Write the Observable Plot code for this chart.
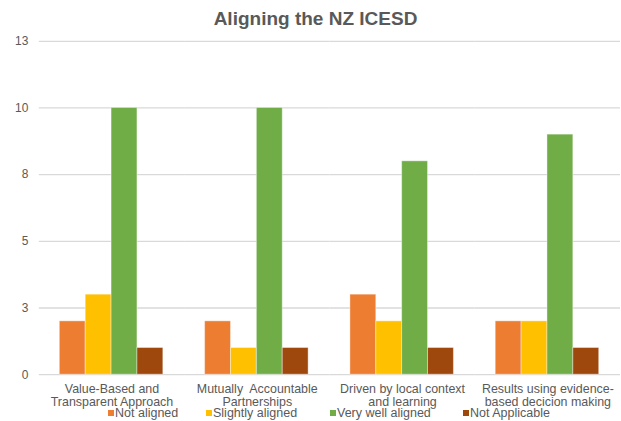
<!DOCTYPE html>
<html>
<head>
<meta charset="utf-8">
<script src="https://cdn.jsdelivr.net/npm/d3@7"></script>
<script src="https://cdn.jsdelivr.net/npm/@observablehq/plot@0.6"></script>
<style>
  html, body { margin: 0; padding: 0; background: #fff; overflow: hidden; }
  #chart { position: relative; width: 621px; height: 421px; overflow: hidden;
           font-family: "Liberation Sans", Arial, sans-serif; color: #595959; }
  #title { position: absolute; left: 0; top: 9px; width: 631px; text-align: center;
           font-size: 19px; line-height: 19px; font-weight: bold; color: #595959; }
  .legend-item { position: absolute; top: 406px; font-size: 12.5px; line-height: 14px;
                 white-space: nowrap; color: #595959; }
  .legend-item .sw { position: absolute; left: -7px; top: 4px; width: 6px; height: 6px; }
  #plot { position: absolute; left: 0; top: 0; }
</style>
</head>
<body>
<div id="chart">
  <div id="plot"></div>
  <div id="title">Aligning the NZ ICESD</div>
</div>
<script>
// Principles along the x axis (two-line labels)
const categories = [
  "Value-Based and\nTransparent Approach",
  "Mutually  Accountable\nPartnerships",
  "Driven by local context\nand learning",
  "Results using evidence-\nbased decicion making"
];

// Alignment ratings
const series = ["Not aligned", "Slightly aligned", "Very well aligned", "Not Applicable"];
const colors = ["#ED7D31", "#FFC000", "#70AD47", "#9E480E"];

// Counts per rating, one value per principle
const notAligned      = [2, 2, 3, 2];
const slightlyAligned = [3, 1, 2, 2];
const veryWellAligned = [10, 10, 8, 9];
const notApplicable   = [1, 1, 1, 1];

// Value axis ticks (labels are rounded to whole numbers)
const yTicks = [0, 2.5, 5, 7.5, 10, 12.5];

const valuesBySeries = [notAligned, slightlyAligned, veryWellAligned, notApplicable];
const rows = [];
categories.forEach((c, i) => {
  series.forEach((s, j) => rows.push({category: c, series: s, value: valuesBySeries[j][i]}));
});

const plot = Plot.plot({
  width: 624,
  height: 421,
  marginLeft: 37.4,
  marginRight: 0,
  marginTop: 41,
  marginBottom: 45,
  style: {
    fontFamily: "'Liberation Sans', Arial, sans-serif",
    fontSize: "12px",
    color: "#595959",
    background: "transparent"
  },
  fx: {domain: categories, padding: 0, label: null},
  x: {domain: series, paddingInner: 0, paddingOuter: 0.745, align: 0.5, axis: null},
  y: {domain: [0, 12.5], label: null},
  color: {domain: series, range: colors},
  marks: [
    Plot.ruleY(yTicks, {stroke: "#d9d9d9", strokeWidth: 1.3}),
    Plot.axisY({
      ticks: yTicks,
      tickFormat: d => Math.round(d),
      tickSize: 0,
      tickPadding: 11,
      fontSize: 12,
      label: null
    }),
    Plot.axisFx({
      anchor: "bottom",
      tickSize: 0,
      tickPadding: 9,
      fontSize: 12.5,
      lineHeight: 1.07,
      label: null
    }),
    Plot.barY(rows, {
      fx: "category",
      x: "series",
      y: "value",
      fill: "series",
      inset: 0,
      stroke: "#ffffff",
      strokeOpacity: 0.4,
      strokeWidth: 1
    })
  ]
});
document.getElementById("plot").appendChild(plot);

// Legend row below the category labels
const legendLeft = [115, 213, 337, 470];
const chart = document.getElementById("chart");
series.forEach((s, i) => {
  const item = document.createElement("div");
  item.className = "legend-item";
  item.style.left = legendLeft[i] + "px";
  const sw = document.createElement("span");
  sw.className = "sw";
  sw.style.background = colors[i];
  item.appendChild(sw);
  item.appendChild(document.createTextNode(s));
  chart.appendChild(item);
});
</script>
</body>
</html>
